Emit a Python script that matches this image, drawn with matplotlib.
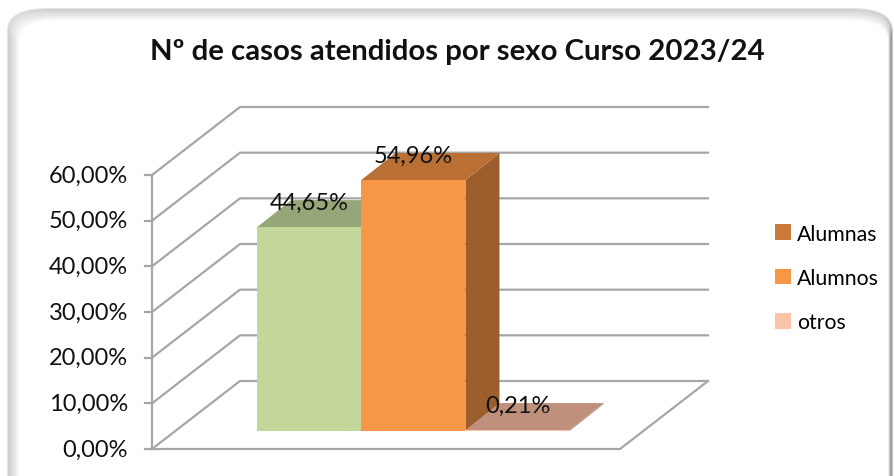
import matplotlib.pyplot as plt
from matplotlib.patches import Polygon, Rectangle, FancyBboxPatch, Patch

title = "Nº de casos atendidos por sexo Curso 2023/24"
series = ["Alumnas", "Alumnos", "otros"]
values = [44.65, 54.96, 0.21]
labels = ["44,65%", "54,96%", "0,21%"]
ticks = [0, 10, 20, 30, 40, 50, 60]
tick_labels = ["0,00%", "10,00%", "20,00%", "30,00%", "40,00%", "50,00%", "60,00%"]

front_cols = ["#C4D79B", "#F79646", "#FAC4A8"]
top_cols = ["#96A678", "#BA6F35", "#BF917D"]
side_cols = ["#7F8C62", "#9C5E2C", "#A87F6C"]
legend_cols = ["#C97A3B", "#F79646", "#FAC4A8"]

plt.rcParams['font.family'] = ['Lato', 'DejaVu Sans']

W, H = 894, 477
fig = plt.figure(figsize=(W / 100, H / 100), dpi=100)

# rounded frame with inner shading (darker on top/left)
for i in range(12):
    a = 0.10 * (1 - i / 12)
    fig.patches.append(FancyBboxPatch(((8 + i) / W, -0.05), (884 - i * 1.3) / W, (467 - i) / H + 0.05,
                                      boxstyle="round,pad=0,rounding_size=0.045",
                                      transform=fig.transFigure, facecolor="none",
                                      edgecolor=(0, 0, 0, a), lw=1.5, zorder=-10))
fig.patches.append(FancyBboxPatch((22 / W, -0.05), 862 / W, 447 / H + 0.05,
                                  boxstyle="round,pad=0,rounding_size=0.03",
                                  transform=fig.transFigure, facecolor="white",
                                  edgecolor="none", zorder=-9))

ax = fig.add_axes([0, 0, 1, 1])
ax.set_axis_off()
ax.patch.set_visible(False)
# front floor: x 0..1 -> px 152..620 ; y 0..60 -> py 450..176
sx = 468.0
sy = 274.0 / 60
ax.set_xlim(-152 / sx, (W - 152) / sx)
ax.set_ylim((450 - H) / sy, 450 / sy)

DX = 88 / sx
DY = 68 / sy
grid = "#A6A6A6"

# walls and gridlines
for t in ticks:
    ax.plot([0, DX, 1 + DX], [t, t + DY, t + DY], color=grid, lw=1.6, zorder=1)
ax.plot([0, 1, 1 + DX], [0, 0, DY], color=grid, lw=1.6, zorder=1)
ax.plot([0, 0], [0, 60], color=grid, lw=1.6, zorder=1)
for t, lab in zip(ticks, tick_labels):
    ax.plot([-7 / sx, 0], [t, t], color=grid, lw=1.6, zorder=1)
    ax.text(-24 / sx, t, lab, ha="right", va="center", fontsize=17, color="#111111")

# bars
f0 = 18 / 68
ox, oy = f0 * DX, f0 * DY
ddx, ddy = 34 / sx, 27 / sy
bw = 0.2225
x_start = 0.175
for i, (v, lab) in enumerate(zip(values, labels)):
    x0 = x_start + i * bw + ox
    x1 = x0 + bw
    y0, y1 = oy, oy + v
    ax.add_patch(Polygon([(x1, y0), (x1 + ddx, y0 + ddy), (x1 + ddx, y1 + ddy), (x1, y1)],
                         closed=True, facecolor=side_cols[i], edgecolor="none", zorder=2 + i))
    ax.add_patch(Polygon([(x0, y1), (x1, y1), (x1 + ddx, y1 + ddy), (x0 + ddx, y1 + ddy)],
                         closed=True, facecolor=top_cols[i], edgecolor="none", zorder=2 + i))
    ax.add_patch(Rectangle((x0, y0), bw, v, facecolor=front_cols[i], edgecolor="none", zorder=2 + i))
    ax.text((x0 + x1) / 2, y1 + 5.4, lab, ha="center", va="center", fontsize=17,
            color="#111111", zorder=10)

ax.text(457 / sx - 152 / sx, (450 - 52) / sy, title, ha="center", va="center",
        fontsize=21.2, fontweight="bold", color="#111111")

handles = [Patch(facecolor=c, edgecolor="none") for c in legend_cols]
ax.legend(handles, series, loc="center left", bbox_to_anchor=(764 / W, 1 - 279 / H),
          frameon=False, fontsize=15.3, handlelength=0.75, handleheight=0.75,
          handletextpad=0.3, labelspacing=1.15, borderpad=0)

fig.savefig("out.png", dpi=100)
